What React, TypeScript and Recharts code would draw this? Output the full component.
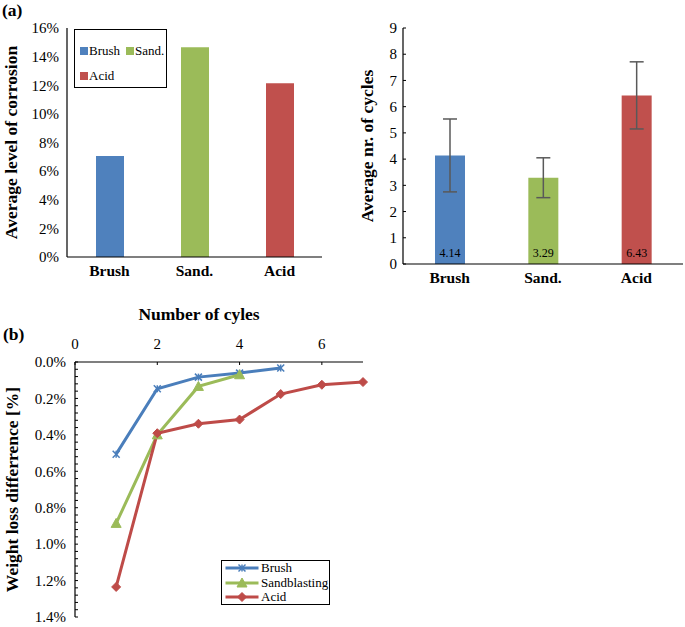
import React from 'react';
import {
  BarChart,
  Bar,
  XAxis,
  YAxis,
  Legend,
  Cell,
  ErrorBar,
  LabelList,
  LineChart,
  Line,
} from 'recharts';

const FONT = '"Liberation Serif", "Times New Roman", serif';

// ---- (a) left: average level of corrosion ----
const treatments = ['Brush', 'Sand.', 'Acid'];
const corrosionPct = [7.05, 14.65, 12.14];
const corrosionTicks = [0, 2, 4, 6, 8, 10, 12, 14, 16];
const barColors = ['#4F81BD', '#9BBB59', '#C0504D'];

// ---- (a) right: average number of cycles ----
const avgCycles = [4.14, 3.29, 6.43];
const cyclesErr = [1.39, 0.76, 1.28];
const cyclesTicks = [0, 1, 2, 3, 4, 5, 6, 7, 8, 9];

// ---- (b): weight loss difference per cycle ----
const cycleNumbers = [1, 2, 3, 4, 5, 6, 7];
const brushLoss = [0.506, 0.147, 0.083, 0.061, 0.033];
const sandLoss = [0.886, 0.4, 0.134, 0.07];
const acidLoss = [1.235, 0.391, 0.339, 0.316, 0.176, 0.125, 0.11];
const lossSeries = ['Brush', 'Sandblasting', 'Acid'];
const lossColors = ['#4A7EBB', '#9BBB59', '#BE4B48'];
const lossMarkers = ['star', 'triangle', 'diamond'];
const cycleTicks = [0, 2, 4, 6];
const lossMajorTicks = [0, 0.2, 0.4, 0.6, 0.8, 1.0, 1.2, 1.4];
const lossMinorPerMajor = 5;

const corrosionData = treatments.map((t, i) => ({ cat: t, [t]: corrosionPct[i] }));
const cyclesData = treatments.map((t, i) => ({ cat: t, v: avgCycles[i], err: cyclesErr[i] }));
const lossSeriesValues = [brushLoss, sandLoss, acidLoss];
const lossData = cycleNumbers.map((n, i) => {
  const row: any = { n };
  lossSeries.forEach((s, k) => {
    if (i < lossSeriesValues[k].length) row[s] = lossSeriesValues[k][i];
  });
  return row;
});
const lossTicks: number[] = [];
for (let m = 0; m < lossMajorTicks.length - 1; m++) {
  const a = lossMajorTicks[m];
  const b = lossMajorTicks[m + 1];
  for (let j = 0; j < lossMinorPerMajor; j++) {
    lossTicks.push(Math.round((a + ((b - a) * j) / lossMinorPerMajor) * 1000) / 1000);
  }
}
lossTicks.push(lossMajorTicks[lossMajorTicks.length - 1]);

const tickText = { fill: '#000', fontSize: 15, fontFamily: FONT };
const catTick = { fill: '#000', fontSize: 15.5, fontWeight: 'bold' as const, fontFamily: FONT };
const titleStyle = {
  textAnchor: 'middle' as const,
  fontSize: 17.5,
  fontWeight: 'bold' as const,
  fontFamily: FONT,
  fill: '#000',
};
const axisLine = { stroke: '#000', strokeWidth: 1.2 };

function ordered(payload: any[], order: string[]) {
  return (payload || []).slice().sort((a, b) => order.indexOf(a.value) - order.indexOf(b.value));
}

function InsideYTick(props: any) {
  const { x, y, payload, gap, len, fmt } = props;
  const label = fmt(payload.value);
  return (
    <g>
      <line x1={x + gap} x2={x + gap + len} y1={y} y2={y} stroke="#000" strokeWidth={1} />
      {label !== '' && (
        <text x={x} y={y} dy="0.35em" textAnchor="end" {...tickText}>
          {label}
        </text>
      )}
    </g>
  );
}

function InsideTopTick(props: any) {
  const { x, y, payload, gap, len } = props;
  return (
    <g>
      <line x1={x} x2={x} y1={y + gap} y2={y + gap + len} stroke="#000" strokeWidth={1} />
      <text x={x} y={y} textAnchor="middle" {...tickText}>
        {payload.value}
      </text>
    </g>
  );
}

function Marker({ kind, cx, cy, color }: { kind: string; cx: number; cy: number; color: string }) {
  if (kind === 'star') {
    const r = 3.5;
    return (
      <g stroke={color} strokeWidth={1.5}>
        <line x1={cx - r} y1={cy - r} x2={cx + r} y2={cy + r} />
        <line x1={cx - r} y1={cy + r} x2={cx + r} y2={cy - r} />
        <line x1={cx} y1={cy - r} x2={cx} y2={cy + r} />
      </g>
    );
  }
  if (kind === 'triangle') {
    return (
      <polygon
        points={`${cx},${cy - 5} ${cx + 5},${cy + 4} ${cx - 5},${cy + 4}`}
        fill={color}
        stroke={color}
      />
    );
  }
  return (
    <polygon
      points={`${cx},${cy - 4.5} ${cx + 4.5},${cy} ${cx},${cy + 4.5} ${cx - 4.5},${cy}`}
      fill={color}
      stroke={color}
    />
  );
}

function BarLegend(props: any) {
  const payload = ordered(props.payload, treatments);
  const rows = [payload.slice(0, 2), payload.slice(2)];
  return (
    <div style={{ fontFamily: FONT, fontSize: 13, color: '#000', paddingTop: 8, paddingLeft: 4.5 }}>
      {rows.map((row: any[], r: number) => (
        <div key={r} style={{ display: 'flex', height: 25, alignItems: 'center' }}>
          {row.map((e: any, i: number) => (
            <div key={i} style={{ display: 'flex', alignItems: 'center', width: i === 0 ? 46 : 'auto' }}>
              <span style={{ display: 'inline-block', width: 8, height: 8, background: e.color, marginRight: 1.5 }} />
              <span>{e.value}</span>
            </div>
          ))}
        </div>
      ))}
    </div>
  );
}

function LineLegend(props: any) {
  const payload = ordered(props.payload, lossSeries);
  return (
    <div style={{ fontFamily: FONT, fontSize: 13, color: '#000', paddingLeft: 1 }}>
      {payload.map((e: any, i: number) => {
        const k = lossSeries.indexOf(e.value);
        return (
          <div key={i} style={{ display: 'flex', alignItems: 'center', height: 14.5 }}>
            <svg width={37} height={14} style={{ display: 'block' }}>
              <line x1={2.5} x2={35.5} y1={7} y2={7} stroke={e.color} strokeWidth={3} />
              <Marker kind={lossMarkers[k]} cx={19} cy={7} color={e.color} />
            </svg>
            <span style={{ marginLeft: 1, lineHeight: '14px' }}>{e.value}</span>
          </div>
        );
      })}
    </div>
  );
}

const panelLabel = {
  position: 'absolute' as const,
  fontFamily: FONT,
  fontWeight: 'bold' as const,
  fontSize: 17.5,
  lineHeight: '17.5px',
  color: '#000',
};

export default function App() {
  return (
    <div style={{ position: 'absolute', left: 0, top: 0, width: 685, height: 627, background: '#fff', fontFamily: FONT }}>
      <div style={{ ...panelLabel, left: 2, top: 2 }}>(a)</div>
      <div style={{ ...panelLabel, left: 3, top: 326 }}>(b)</div>

      {/* Panel (a) left */}
      <div style={{ position: 'absolute', left: 0, top: 0 }}>
        <BarChart width={340} height={300} data={corrosionData} margin={{ top: 28, right: 18, bottom: 13, left: 0 }}>
          <XAxis
            dataKey="cat"
            interval={0}
            height={30}
            axisLine={axisLine}
            tickLine={false}
            tickSize={0}
            tickMargin={8}
            tick={catTick}
          />
          <XAxis xAxisId="top" orientation="top" dataKey="cat" height={0} tick={false} tickLine={false} axisLine={axisLine} />
          <YAxis
            domain={[0, 16]}
            ticks={corrosionTicks}
            width={67}
            axisLine={axisLine}
            tickLine={false}
            tickSize={0}
            tickMargin={8}
            tick={tickText}
            tickFormatter={(v: number) => `${v}%`}
            label={{ value: 'Average level of corrosion', angle: -90, position: 'insideLeft', offset: 11, style: titleStyle }}
          />
          <YAxis yAxisId="right" orientation="right" domain={[0, 16]} width={0} tick={false} tickLine={false} axisLine={axisLine} />
          <Legend
            layout="horizontal"
            verticalAlign="middle"
            align="center"
            content={<BarLegend />}
            wrapperStyle={{
              left: 74,
              top: 29,
              width: 93,
              height: 59,
              border: '1.5px solid #000',
              boxSizing: 'border-box',
              background: '#fff',
            }}
          />
          {treatments.map((t, i) => (
            <Bar key={t} dataKey={t} stackId="a" fill={barColors[i]} barSize={28} isAnimationActive={false} />
          ))}
        </BarChart>
      </div>

      {/* Panel (a) right */}
      <div style={{ position: 'absolute', left: 340, top: 0 }}>
        <BarChart width={345} height={300} data={cyclesData} margin={{ top: 28, right: 2, bottom: 6, left: 0 }}>
          <XAxis
            dataKey="cat"
            interval={0}
            height={30}
            axisLine={axisLine}
            tickLine={false}
            tickSize={0}
            tickMargin={8}
            tick={catTick}
          />
          <XAxis xAxisId="top" orientation="top" dataKey="cat" height={0} tick={false} tickLine={false} axisLine={axisLine} />
          <YAxis
            domain={[0, 9]}
            ticks={cyclesTicks}
            interval={0}
            width={63}
            axisLine={axisLine}
            tickLine={false}
            tickSize={0}
            tickMargin={6}
            tick={(p: any) => <InsideYTick {...p} gap={6} len={3} fmt={(v: number) => String(v)} />}
            label={{ value: 'Average nr. of cycles', angle: -90, position: 'insideLeft', offset: 27, style: titleStyle }}
          />
          <YAxis yAxisId="right" orientation="right" domain={[0, 9]} width={0} tick={false} tickLine={false} axisLine={axisLine} />
          <Bar dataKey="v" barSize={30} isAnimationActive={false}>
            {cyclesData.map((d, i) => (
              <Cell key={d.cat} fill={barColors[i]} />
            ))}
            <ErrorBar dataKey="err" width={7} stroke="#595959" strokeWidth={1.5} direction="y" />
            <LabelList
              dataKey="v"
              position="insideBottom"
              offset={7}
              formatter={(v: any) => Number(v).toFixed(2)}
              style={{ fill: '#000', fontSize: 12, fontFamily: FONT }}
            />
          </Bar>
        </BarChart>
      </div>

      {/* Panel (b) */}
      <div style={{ position: 'absolute', left: 0, top: 300 }}>
        <LineChart width={390} height={327} data={lossData} margin={{ top: 0, right: 27, bottom: 10, left: 0 }}>
          <XAxis
            orientation="top"
            type="number"
            dataKey="n"
            domain={[0, 7]}
            ticks={cycleTicks}
            interval={0}
            height={62}
            axisLine={axisLine}
            tickLine={false}
            tickSize={0}
            tickMargin={13}
            tick={(p: any) => <InsideTopTick {...p} gap={13} len={3} />}
            label={{
              value: 'Number of cyles',
              position: 'insideTop',
              offset: 8,
              dx: -20,
              style: titleStyle,
            }}
          />
          <XAxis xAxisId="b" orientation="bottom" type="number" dataKey="n" domain={[0, 7]} height={0} tick={false} tickLine={false} axisLine={axisLine} />
          <YAxis
            reversed
            domain={[0, 1.4]}
            ticks={lossTicks}
            interval={0}
            width={75}
            axisLine={axisLine}
            tickLine={false}
            tickSize={0}
            tickMargin={9}
            tick={(p: any) => (
              <InsideYTick
                {...p}
                gap={9}
                len={3}
                fmt={(v: number) => (lossMajorTicks.some((m) => Math.abs(m - v) < 1e-6) ? `${v.toFixed(1)}%` : '')}
              />
            )}
            label={{ value: 'Weight loss differrence [%]', angle: -90, position: 'insideLeft', offset: 12, style: titleStyle }}
          />
          <YAxis yAxisId="r" orientation="right" reversed domain={[0, 1.4]} width={0} tick={false} tickLine={false} axisLine={axisLine} />
          <Legend
            layout="horizontal"
            verticalAlign="middle"
            align="center"
            content={<LineLegend />}
            wrapperStyle={{
              left: 221,
              top: 260,
              width: 109,
              height: 45,
              border: '1.5px solid #000',
              boxSizing: 'border-box',
              background: '#fff',
            }}
          />
          {lossSeries.map((s, k) => (
            <Line
              key={s}
              dataKey={s}
              name={s}
              stroke={lossColors[k]}
              strokeWidth={3}
              isAnimationActive={false}
              dot={(p: any) =>
                p.cy == null || p.value == null ? (
                  <g key={`${s}-${p.index}`} />
                ) : (
                  <Marker key={`${s}-${p.index}`} kind={lossMarkers[k]} cx={p.cx} cy={p.cy} color={lossColors[k]} />
                )
              }
              activeDot={false}
            />
          ))}
        </LineChart>
      </div>
    </div>
  );
}
